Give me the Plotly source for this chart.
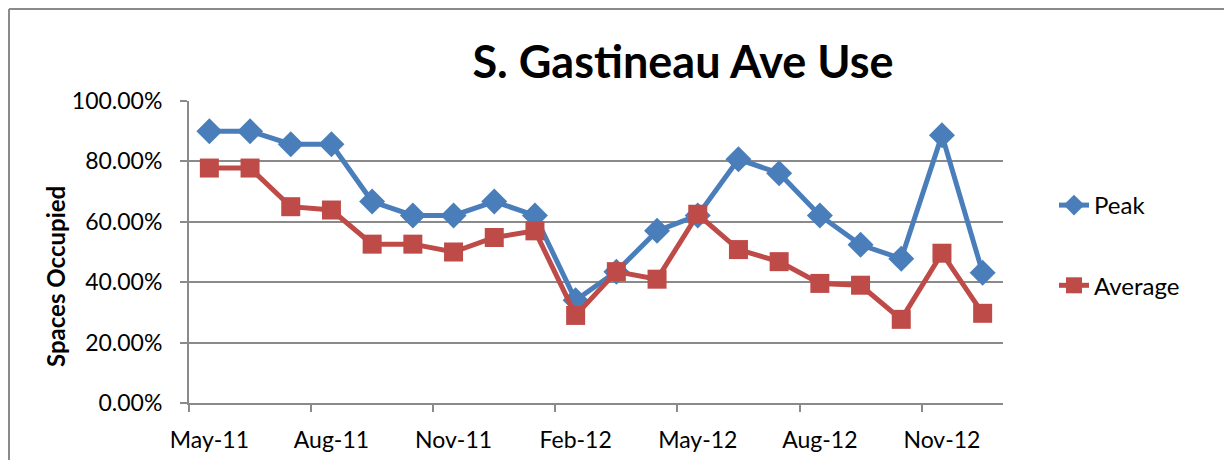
import plotly.graph_objects as go

months = ["May-11", "Jun-11", "Jul-11", "Aug-11", "Sep-11", "Oct-11", "Nov-11", "Dec-11",
          "Jan-12", "Feb-12", "Mar-12", "Apr-12", "May-12", "Jun-12", "Jul-12", "Aug-12",
          "Sep-12", "Oct-12", "Nov-12", "Dec-12"]
peak = [90.0, 90.0, 85.7, 85.7, 66.7, 62.1, 62.1, 66.7, 62.1, 34.0,
        43.5, 57.0, 62.1, 80.7, 76.1, 62.1, 52.4, 47.8, 88.7, 43.1]
average = [77.8, 77.8, 65.0, 63.9, 52.6, 52.6, 50.0, 54.8, 57.0, 29.0,
           43.5, 41.0, 62.5, 50.8, 46.8, 39.6, 39.0, 27.7, 49.6, 29.7]
tick_labels = ["May-11", "Aug-11", "Nov-11", "Feb-12", "May-12", "Aug-12", "Nov-12"]

x_idx = list(range(len(months)))
tick_pos = [months.index(t) for t in tick_labels]

BLUE = "#4A7EBB"
RED = "#BE4B48"
GRID = "#8A8A8A"
FONT = "Lato"

# page body has an 8px margin: convert reference pixel coords to figure coords
OFF = 8
W, H = 1232, 460
L, R, T, B = 189 - OFF, 1003 - OFF, 101 - OFF, 403 - OFF

fig = go.Figure()
fig.add_trace(go.Scatter(
    x=x_idx, y=[v / 100 for v in peak], name="Peak", mode="lines+markers",
    line=dict(color=BLUE, width=5), marker=dict(symbol="diamond", size=20, color=BLUE),
    legendgroup="a", customdata=months))
fig.add_trace(go.Scatter(
    x=x_idx, y=[v / 100 for v in average], name="Average", mode="lines+markers",
    line=dict(color=RED, width=5), marker=dict(symbol="square", size=19, color=RED),
    legendgroup="b", customdata=months))

pw = R - L
ph = B - T
def px_x(p):
    return (p - OFF - L) / pw
def px_y(p):
    return (B - (p - OFF)) / ph

fig.update_layout(
    width=W, height=H,
    margin=dict(l=L, r=W - R, t=T, b=H - B, pad=0, autoexpand=False),
    paper_bgcolor="white", plot_bgcolor="white",
    font=dict(family=FONT, size=23, color="black"),
    title=dict(text="<b>S. Gastineau Ave Use</b>", x=(683 - OFF) / W, xanchor="center",
               xref="container", y=1 - (62 - OFF) / H, yref="container", yanchor="middle",
               font=dict(family=FONT, size=45, color="black")),
    xaxis=dict(range=[-0.5, len(months) - 0.5], tickmode="array", tickvals=tick_pos,
               ticktext=tick_labels, ticks="", showgrid=False, zeroline=False,
               showline=True, linecolor=GRID, linewidth=2, ticklabelstandoff=15,
               tickfont=dict(size=23),
               minor=dict(tickmode="linear", tick0=-0.5, dtick=3, ticks="outside",
                          ticklen=7, tickcolor=GRID, tickwidth=2, showgrid=False)),
    yaxis=dict(range=[0, 1], tickmode="array", tickvals=[0, 0.2, 0.4, 0.6, 0.8, 1.0],
               tickformat=".2%", ticks="outside", ticklen=7, tickcolor=GRID, tickwidth=2,
               showgrid=True, gridcolor=GRID, gridwidth=2, zeroline=False,
               showline=True, linecolor=GRID, linewidth=2, ticklabelstandoff=13,
               tickfont=dict(size=23)),
    legend=dict(x=px_x(1054), xanchor="left", y=px_y(183), yanchor="top",
                font=dict(size=24), tracegroupgap=46, bgcolor="rgba(0,0,0,0)",
                itemwidth=30),
    showlegend=True,
)

fig.add_annotation(text="<b>Spaces Occupied</b>", textangle=-90, xref="paper", yref="paper",
                   x=px_x(55), y=px_y(277), xanchor="center", yanchor="middle",
                   showarrow=False, font=dict(family=FONT, size=24, color="black"))

# chart frame (left and top edges)
fig.add_shape(type="line", xref="paper", yref="paper", x0=px_x(OFF + 1), x1=px_x(OFF + 1),
              y0=px_y(9), y1=px_y(480), line=dict(color=GRID, width=2))
fig.add_shape(type="line", xref="paper", yref="paper", x0=px_x(OFF + 1), x1=px_x(1250),
              y0=px_y(9), y1=px_y(9), line=dict(color=GRID, width=2))

fig.write_html("out.html")
